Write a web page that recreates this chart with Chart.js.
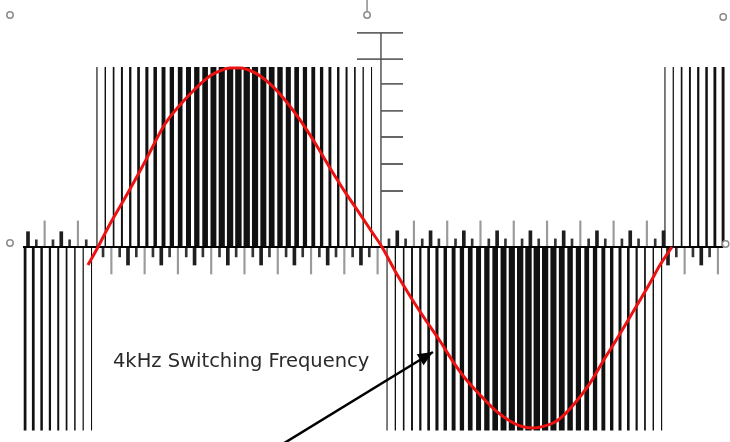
<!DOCTYPE html>
<html><head><meta charset="utf-8">
<script src="https://cdn.jsdelivr.net/npm/chart.js@4.4.1/dist/chart.umd.min.js"></script>
<style>html,body{margin:0;padding:0;background:#fff;}#wrap{width:730px;height:442px;position:relative;}</style>
</head><body><div id="wrap"><canvas id="c"></canvas></div>
<script>
// ---------- data (time in electrical degrees, amplitude in per-unit) ----------
const carrierPeriod = 5.2;            // one 4 kHz switching period, in degrees
const leftStart = -44.4, posStart = 0.6, negStart = 181.9, rightStart = 355.6;
const leftDuty  = [0.36,0.33,0.30,0.27,0.24,0.21,0.18,0.15,0.13];
const posDuty   = [0.14,0.17,0.20,0.24,0.28,0.32,0.37,0.42,0.47,0.52,0.56,0.60,0.64,0.68,0.71,0.74,0.76,0.77,0.76,0.74,0.72,0.69,0.65,0.61,0.56,0.51,0.46,0.40,0.35,0.29,0.24,0.20,0.16,0.13];
const negDuty   = [0.13,0.16,0.19,0.23,0.27,0.32,0.37,0.42,0.47,0.52,0.56,0.60,0.64,0.68,0.71,0.74,0.76,0.77,0.77,0.75,0.73,0.70,0.66,0.62,0.57,0.52,0.47,0.41,0.36,0.31,0.26,0.21,0.17,0.14];
const rightDuty = [0.13,0.15,0.20,0.23,0.27,0.30,0.34,0.37];
const pulseHigh = 1.0, pulseLow = -1.02;

const leftTickStart = -42.5, posTickStart = 4.4, negTickStart = 183.1, rightTickStart = 357.5;
const leftTicks  = [0.085,0.04,0.145,0.04,0.085,0.04,0.145,0.04];
const posTicks   = [-0.055,-0.15,-0.055,-0.1,-0.055,-0.15,-0.055,-0.1,-0.055,-0.15,-0.055,-0.1,-0.055,-0.15,-0.055,-0.1,-0.055,-0.15,-0.055,-0.1,-0.055,-0.15,-0.055,-0.1,-0.055,-0.15,-0.055,-0.1,-0.055,-0.15,-0.055,-0.1,-0.055,-0.15];
const negTicks   = [0.045,0.09,0.045,0.145,0.045,0.09,0.045,0.145,0.045,0.09,0.045,0.145,0.045,0.09,0.045,0.145,0.045,0.09,0.045,0.145,0.045,0.09,0.045,0.145,0.045,0.09,0.045,0.145,0.045,0.09,0.045,0.145,0.045,0.09];
const rightTicks = [-0.1,-0.055,-0.15,-0.055,-0.1,-0.055,-0.15];

const sineDeg = [-5.0,1.25,8.75,18.1,27.5,33.75,43.1,52.5,61.9,71.25,77.5,83.75,90,99.4,108.75,118.1,127.5,136.9,146.25,155.6,165,172.5,178.75,186.9,196.25,205.6,215,222.5,230.6,240,249.4,258.75,265,273.1,280.6,286.9,293.1,299.4,308.75,318.1,324.4,333.75,346.25,352.5,360];
const sineVal = [-0.10,0,0.128,0.272,0.422,0.528,0.683,0.789,0.878,0.950,0.978,0.994,0.994,0.967,0.906,0.817,0.706,0.578,0.439,0.306,0.183,0.083,0,-0.133,-0.272,-0.400,-0.522,-0.628,-0.728,-0.822,-0.906,-0.967,-0.994,-1.006,-0.994,-0.972,-0.928,-0.867,-0.756,-0.617,-0.528,-0.389,-0.200,-0.100,0];

const hAxis = [-45.6, 392];
const vAxisX = 178.1, vAxisTop = 1.19;
const vTickLevels = [1.19,1.044,0.906,0.756,0.611,0.461,0.311];
const vTickLeft   = [163.1,163.1,178.1,178.1,178.1,178.1,178.1];
const vTickRight  = 191.9;

const handleDeg = [-53.75,169.4,392.0,-53.75,393.5];
const handleVal = [1.289,1.289,1.278,0.022,0.017];
const stemDeg = 169.4, stemTop = 1.372, stemBottom = 1.31;

const label = '4kHz Switching Frequency';
const labelDeg = 10.6, labelVal = -0.665;
const arrowFrom = {x:117.5, y:-1.09}, arrowTo = {x:210.6, y:-0.583};

// ---------- build ----------
const xMin = -60, xMax = 396.25, yMin = -1.0833, yMax = 1.3722;

function pulses(start, duty, level, out){
  duty.forEach((d,i)=>{
    const c = start + i*carrierPeriod, h = d*carrierPeriod/2;
    out.push({x:c-h,y:0},{x:c-h,y:level},{x:c+h,y:level},{x:c+h,y:0});
  });
  return out;
}
const pwm = [];
pulses(leftStart, leftDuty, pulseLow, pwm);
pulses(posStart, posDuty, pulseHigh, pwm);
pulses(negStart, negDuty, pulseLow, pwm);
pulses(rightStart, rightDuty, pulseHigh, pwm);

const tallT=[], medT=[], shortT=[];
function ticks(start, arr){
  arr.forEach((h,i)=>{
    const p = {x:start + i*carrierPeriod, y:h};
    const a = Math.abs(h);
    (a > 0.12 ? tallT : a > 0.07 ? medT : shortT).push(p);
  });
}
ticks(leftTickStart, leftTicks); ticks(posTickStart, posTicks);
ticks(negTickStart, negTicks); ticks(rightTickStart, rightTicks);

const vTicks = [];
vTickLevels.forEach((v,i)=>{ vTicks.push({x:vTickLeft[i],y:v},{x:vTickRight,y:v},{x:vTickRight,y:null}); });

const sine = sineDeg.map((d,i)=>({x:d,y:sineVal[i]}));

const textPlugin = {
  id:'annot',
  afterDatasetsDraw(chart){
    const {ctx, scales:{x,y}} = chart;
    ctx.save();
    const x0=x.getPixelForValue(arrowFrom.x), y0=y.getPixelForValue(arrowFrom.y);
    const x1=x.getPixelForValue(arrowTo.x), y1=y.getPixelForValue(arrowTo.y);
    const ang=Math.atan2(y1-y0,x1-x0), L=15, W=6.5;
    const bx=x1-L*Math.cos(ang), by=y1-L*Math.sin(ang);
    ctx.fillStyle='#000';
    ctx.beginPath();
    ctx.moveTo(x1,y1);
    ctx.lineTo(bx+W*Math.sin(ang), by-W*Math.cos(ang));
    ctx.lineTo(bx-W*Math.sin(ang), by+W*Math.cos(ang));
    ctx.closePath(); ctx.fill();
    ctx.font='19.5px "DejaVu Sans", Verdana, sans-serif';
    ctx.fillStyle='#2a2a2a';
    ctx.textBaseline='alphabetic';
    ctx.fillText(label, x.getPixelForValue(labelDeg), y.getPixelForValue(labelVal));
    ctx.restore();
  }
};

const lineBase = {type:'line', pointRadius:0, tension:0, fill:false};
new Chart(document.getElementById('c'), {
  type:'line',
  data:{datasets:[
    {...lineBase, label:'sine', data:sine, borderColor:'rgb(236,18,18)', borderWidth:3, cubicInterpolationMode:'monotone', order:1},
    {...lineBase, label:'arrow', data:[arrowFrom, arrowTo], borderColor:'#000', borderWidth:2.5, order:2},
    {type:'line', label:'handles', data:handleDeg.map((d,i)=>({x:d,y:handleVal[i]})), showLine:false, pointStyle:'circle', pointRadius:3.2, pointBorderWidth:1.5, pointBorderColor:'#8c8c8c', pointBackgroundColor:'#fff', order:3},
    {...lineBase, label:'stem', data:[{x:stemDeg,y:stemTop},{x:stemDeg,y:stemBottom}], borderColor:'#8c8c8c', borderWidth:1.5, order:3},
    {...lineBase, label:'vaxis', data:[{x:vAxisX,y:0},{x:vAxisX,y:vAxisTop}], borderColor:'#555', borderWidth:1.5, order:4},
    {...lineBase, label:'vticks', data:vTicks, borderColor:'#666', borderWidth:1.8, spanGaps:false, order:4},
    {...lineBase, label:'haxis', data:[{x:hAxis[0],y:0},{x:hAxis[1],y:0}], borderColor:'#000', borderWidth:2, order:5},
    {type:'bar', label:'tall', data:tallT, backgroundColor:'#9a9a9a', barThickness:1.5, grouped:false, order:6},
    {type:'bar', label:'med', data:medT, backgroundColor:'#1e1e1e', barThickness:3, grouped:false, order:6},
    {type:'bar', label:'short', data:shortT, backgroundColor:'#333', barThickness:2, grouped:false, order:6},
    {...lineBase, label:'pwm', data:pwm, borderColor:'rgba(0,0,0,0)', borderWidth:0, fill:'origin', backgroundColor:'#111', order:7}
  ]},
  options:{
    responsive:true, maintainAspectRatio:false, animation:false, events:[],
    layout:{padding:0, autoPadding:false},
    plugins:{legend:{display:false}, tooltip:{enabled:false}},
    scales:{
      x:{type:'linear', min:xMin, max:xMax, display:false, offset:false},
      y:{type:'linear', min:yMin, max:yMax, display:false}
    }
  },
  plugins:[textPlugin]
});
</script></body></html>
